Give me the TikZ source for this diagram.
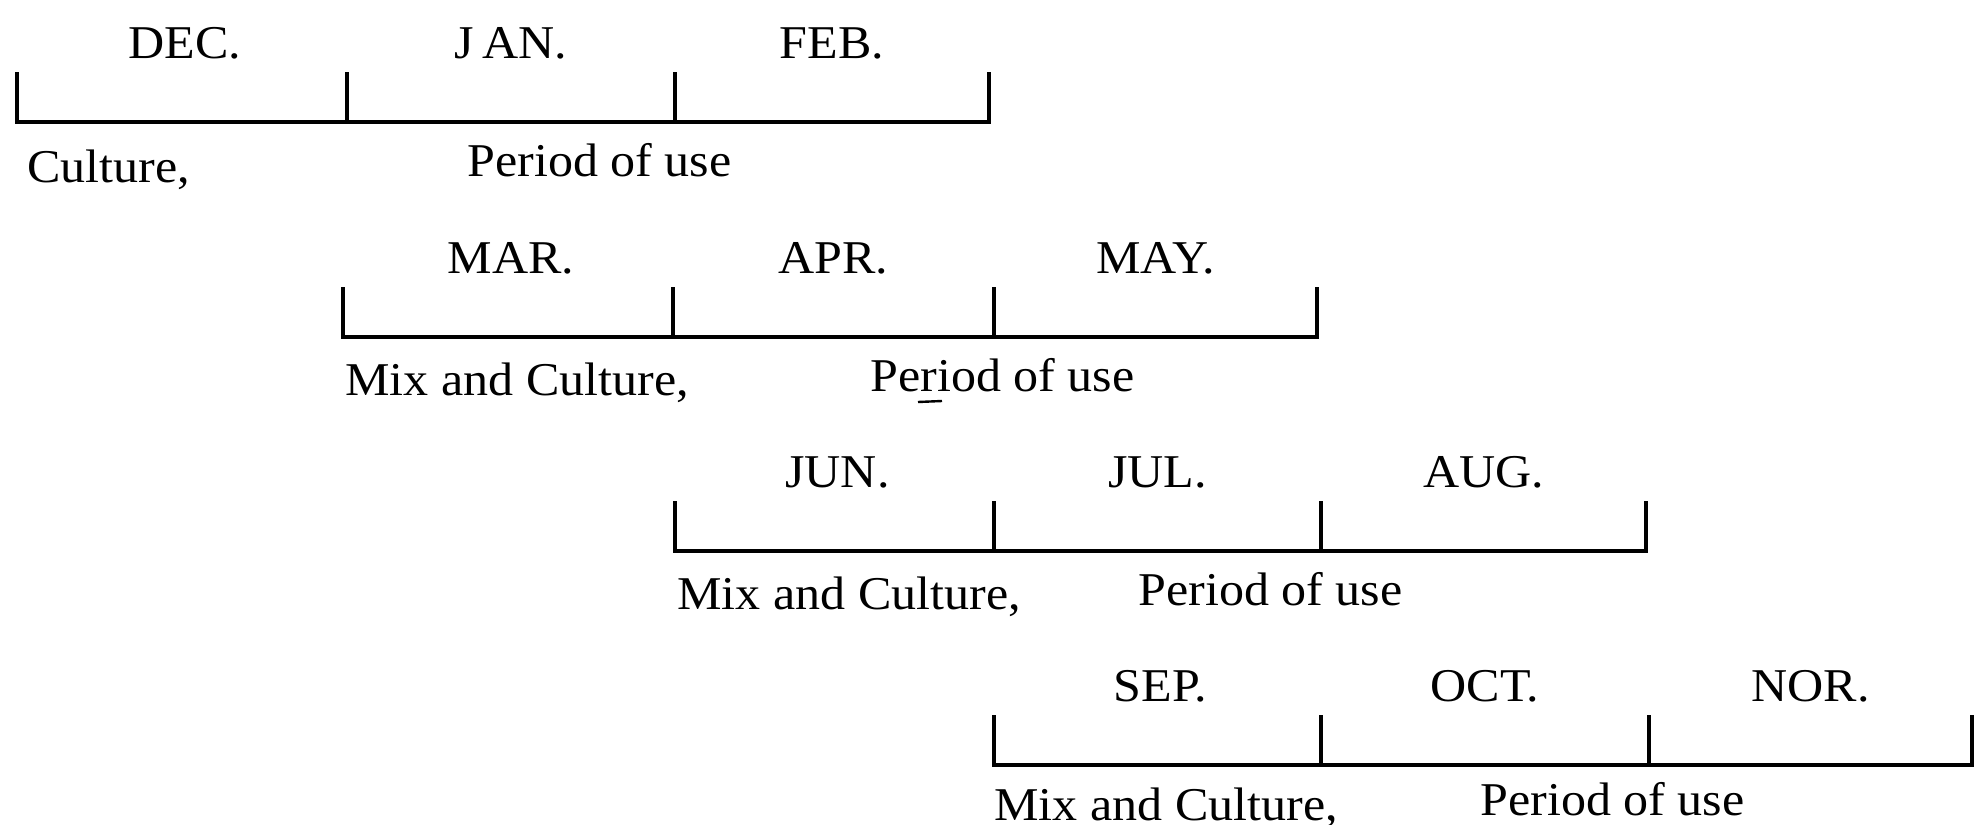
\documentclass[tikz,border=0pt]{standalone}
\usepackage{fontspec}
\setmainfont{Liberation Serif}[FakeStretch=1.065]
\begin{document}
\begin{tikzpicture}[x=0.5pt,y=-0.5pt,
  bar/.style={line width=2pt, line join=miter},
  every node/.style={font=\fontsize{23.5}{28}\selectfont, inner sep=0pt},
  mon/.style={anchor=base},
  lab/.style={anchor=base west}]
\useasboundingbox (0,0) rectangle (1978,825);
\foreach \r/\y/\a/\b/\c/\d/\ma/\mb/\mc in {
  1/122/17/347/675/989/DEC./J\,AN./FEB.,
  2/337/343/673/994/1317/MAR./APR./MAY.,
  3/551/675/994/1321/1646/JUN./JUL./AUG.,
  4/765/994/1321/1649/1972/SEP./OCT./NOR.} {
  \coordinate (t\r a) at (\a,\y-50);
  \coordinate (b\r a) at (\a,\y);
  \coordinate (t\r b) at (\b,\y-50);
  \coordinate (b\r b) at (\b,\y);
  \coordinate (t\r c) at (\c,\y-50);
  \coordinate (b\r c) at (\c,\y);
  \coordinate (t\r d) at (\d,\y-50);
  \coordinate (b\r d) at (\d,\y);
  \draw[bar] (t\r a) -- (b\r a) -- (b\r d) -- (t\r d);
  \draw[bar] (t\r b) -- (b\r b);
  \draw[bar] (t\r c) -- (b\r c);
  \node[mon] (m\r a) at ({(\a+\b)/2+3},\y-64) {\ma};
  \node[mon] (m\r b) at ({(\b+\c)/2},\y-64) {\mb};
  \node[mon] (m\r c) at ({(\c+\d)/2},\y-64) {\mc};
}
\node[lab] (c1) at (27,182) {Culture,};
\node[lab] (p1) at (467,176) {Period of use};
\node[lab] (c2) at (345,395) {Mix and Culture,};
\node[lab] (p2) at (870,391) {Period of use};
\node[lab] (c3) at (677,609) {Mix and Culture,};
\node[lab] (p3) at (1138,605) {Period of use};
\node[lab] (c4) at (994,820) {Mix and Culture,};
\node[lab] (p4) at (1480,815) {Period of use};
\draw[line width=1.2pt] (918,402) -- (942,401);
\end{tikzpicture}
\end{document}
